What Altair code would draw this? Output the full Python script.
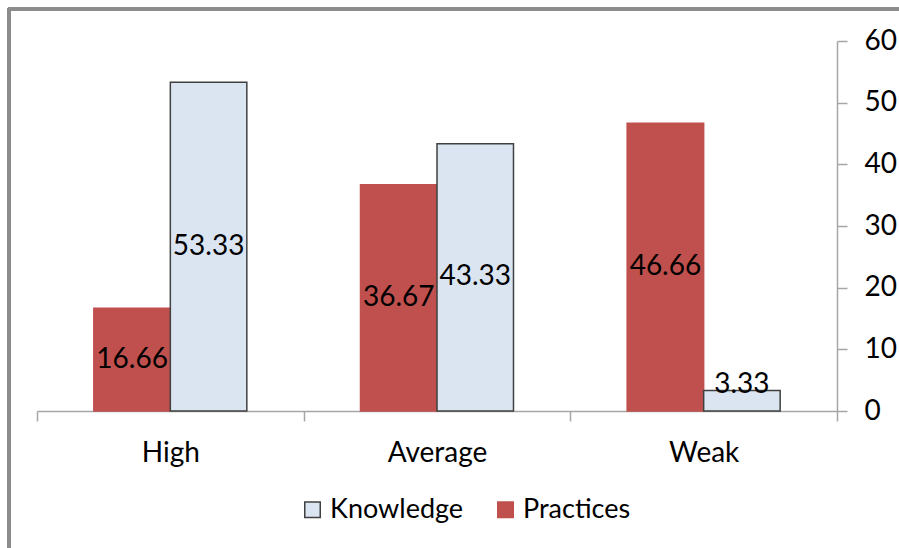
import altair as alt
import pandas as pd

categories = ["High", "Average", "Weak"]
knowledge = [53.33, 43.33, 3.33]
practices = [16.66, 36.67, 46.66]
series_names = ["Knowledge", "Practices"]
y_ticks = [0, 10, 20, 30, 40, 50, 60]

rows = []
for c, k, p in zip(categories, knowledge, practices):
    rows.append({"category": c, "series": "Practices", "value": p})
    rows.append({"category": c, "series": "Knowledge", "value": k})
df = pd.DataFrame(rows)

FONT = "Lato"
FS = 28
x = alt.X("category:N", sort=categories, title=None,
          scale=alt.Scale(paddingInner=0, paddingOuter=0),
          axis=alt.Axis(labelAngle=0, tickBand="extent", tickSize=10,
                        labelPadding=18, labelFontSize=FS, labelFont=FONT,
                        labelColor="#000000", domainColor="#A6A6A6",
                        tickColor="#A6A6A6", domainWidth=1.5, tickWidth=1.5))
xoff = alt.XOffset("series:N", sort=["Practices", "Knowledge"],
                   scale=alt.Scale(paddingInner=0, paddingOuter=0.743))
color = alt.Color("series:N",
                  scale=alt.Scale(domain=series_names, range=["#DBE5F1", "#C0504D"]),
                  legend=alt.Legend(title=None, orient="none", direction="horizontal",
                                    legendX=262, legendY=455, labelFontSize=27,
                                    labelFont=FONT, labelColor="#000000",
                                    symbolType="square", symbolSize=240,
                                    symbolStrokeWidth=1.5, labelOffset=4,
                                    columnPadding=28))
stroke = alt.Stroke("series:N",
                    scale=alt.Scale(domain=series_names, range=["#404040", "#C0504D"]),
                    legend=None)

bars = alt.Chart(df).mark_bar(strokeWidth=1.5).encode(
    x=x, xOffset=xoff,
    y=alt.Y("value:Q", title=None,
            scale=alt.Scale(domain=[0, 60], nice=False),
            axis=alt.Axis(orient="right", values=y_ticks, grid=False, tickSize=10,
                          labelPadding=17, labelFontSize=FS, labelFont=FONT,
                          labelColor="#000000", domainColor="#A6A6A6",
                          tickColor="#A6A6A6", domainWidth=1.5, tickWidth=1.5)),
    color=color, stroke=stroke,
)

labels = alt.Chart(df).transform_calculate(
    ly="max(datum.value / 2, 4.2)",
    txt="format(datum.value, '.2f')",
).mark_text(fontSize=FS, font=FONT, color="#000000", baseline="middle").encode(
    x=alt.X("category:N", sort=categories),
    xOffset=xoff,
    y=alt.Y("ly:Q"),
    text="txt:N",
)

frame_top = alt.Chart(df).mark_rule(color="#8C8C8C", strokeWidth=3).encode(
    x=alt.value(-29), x2=alt.value(900), y=alt.value(-32))
frame_left = alt.Chart(df).mark_rule(color="#8C8C8C", strokeWidth=3).encode(
    x=alt.value(-28), y=alt.value(-33), y2=alt.value(520))

chart = alt.layer(bars, labels, frame_top, frame_left).properties(
    width=800, height=370,
    autosize=alt.AutoSizeParams(type="none"),
    padding={"left": 37, "top": 41, "right": 62, "bottom": 137},
    background="#FFFFFF",
).configure_view(stroke=None)

chart.save("out.html", embed_options={"renderer": "svg", "actions": False})
